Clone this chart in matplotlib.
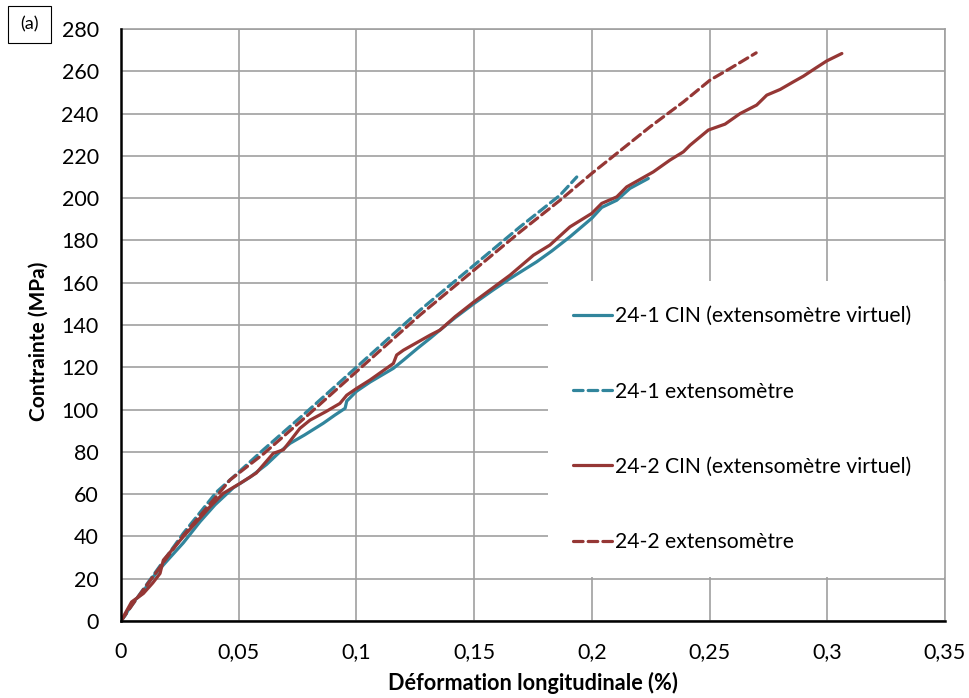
import matplotlib
matplotlib.use("Agg")
import matplotlib.pyplot as plt
from matplotlib.patches import Rectangle
from matplotlib.ticker import FuncFormatter

# donnees
# 24-1 CIN (extensometre virtuel)
x_cin1 = [0, 0.002, 0.005, 0.009, 0.0123, 0.016, 0.02, 0.0265, 0.0336, 0.04, 0.0477,
          0.0548, 0.0618, 0.0675, 0.0718, 0.078, 0.0859, 0.091, 0.0952, 0.0959, 0.1001,
          0.1058, 0.1157, 0.12, 0.126, 0.1313, 0.1355, 0.142, 0.15, 0.158, 0.1653, 0.1766,
          0.183, 0.1907, 0.2, 0.2042, 0.2106, 0.2162, 0.224]
y_cin1 = [0, 3, 9, 13, 19, 24, 29, 37, 47, 55, 63,
          68, 74, 80, 84, 88, 93.5, 97.5, 100.6, 104, 108.7,
          113, 119.5, 123.4, 129, 133.7, 137.6, 143.5, 150.2, 156.5, 162, 169.9,
          175, 181.7, 190.5, 195.6, 199, 204.6, 209.3]

# 24-1 extensometre
x_ext1 = [0, 0.005, 0.0123, 0.0265, 0.0406, 0.0491, 0.0605, 0.08, 0.1, 0.127, 0.15,
          0.1695, 0.1865, 0.1936]
y_ext1 = [0, 8, 19.4, 41.5, 61, 69.5, 81, 100, 120, 147, 168.3,
          186.4, 201.4, 210]

# 24-2 CIN (extensometre virtuel)
x_cin2 = [0, 0.0045, 0.0095, 0.0135, 0.0166, 0.018, 0.0265, 0.0378, 0.0435, 0.0506,
          0.0575, 0.0647, 0.069, 0.076, 0.0803, 0.087, 0.093, 0.0959, 0.1001, 0.1058,
          0.1157, 0.1171, 0.12, 0.1313, 0.1355, 0.142, 0.15, 0.1653, 0.1752, 0.1822,
          0.1907, 0.2, 0.2042, 0.2106, 0.2148, 0.2261, 0.2332, 0.2389, 0.2417, 0.2495,
          0.2566, 0.263, 0.27, 0.2743, 0.28, 0.2856, 0.2899, 0.2948, 0.2998, 0.3062]
y_cin2 = [0, 9, 13, 18, 22.5, 28.8, 39.9, 54, 60.4, 65.1,
          70, 79.3, 81, 91.1, 95, 99, 102.9, 106.8, 110, 114,
          121.8, 125.8, 128.1, 135.2, 137.6, 144, 151, 163.6, 173, 177.8,
          186.4, 192.8, 197.5, 200.6, 205.3, 212.4, 218, 221.9, 225, 232.2,
          235, 240, 244, 248.7, 251.4, 255, 257.7, 261.3, 264.9, 268.4]

# 24-2 extensometre
x_ext2 = [0, 0.005, 0.0123, 0.0265, 0.0406, 0.0463, 0.0605, 0.08, 0.1, 0.127, 0.15,
          0.1695, 0.1865, 0.2, 0.2247, 0.2389, 0.2502, 0.2587, 0.2698]
y_ext2 = [0, 8, 19, 40.5, 59, 66.7, 79, 98, 117.9, 144.7, 166,
          184, 199, 211.7, 233.7, 245.5, 255.8, 261.3, 268.7]

x_ticks = [0, 0.05, 0.1, 0.15, 0.2, 0.25, 0.3, 0.35]
y_ticks = list(range(0, 281, 20))

bleu = '#31859C'
rouge = '#953735'

plt.rcParams['font.family'] = ['Lato', 'DejaVu Sans']

fig = plt.figure(figsize=(9.7, 6.98), dpi=100)
ax = fig.add_axes([0.1247, 0.1103, 0.8495, 0.8482])

ax.plot(x_cin1, y_cin1, color=bleu, lw=2.3, solid_capstyle='round', solid_joinstyle='round',
        label='24-1 CIN (extensomètre virtuel)', zorder=3)
ax.plot(x_ext1, y_ext1, color=bleu, lw=2.3, dashes=(3, 1.6), dash_capstyle='round',
        label='24-1 extensomètre', zorder=3)
ax.plot(x_cin2, y_cin2, color=rouge, lw=2.3, solid_capstyle='round', solid_joinstyle='round',
        label='24-2 CIN (extensomètre virtuel)', zorder=3)
ax.plot(x_ext2, y_ext2, color=rouge, lw=2.3, dashes=(3, 1.6), dash_capstyle='round',
        label='24-2 extensomètre', zorder=3)

ax.set_xlim(0, 0.35)
ax.set_ylim(0, 280)
ax.set_xticks(x_ticks)
ax.set_yticks(y_ticks)
ax.xaxis.set_major_formatter(FuncFormatter(lambda v, p: ('%g' % round(v, 2)).replace('.', ',')))
ax.tick_params(length=0, labelsize=15.5)
ax.tick_params(axis='y', pad=16)
ax.tick_params(axis='x', pad=15)

ax.grid(True, color='#a0a0a0', lw=1.2)
ax.set_axisbelow(True)
for s in ['top', 'right']:
    ax.spines[s].set_color('#a0a0a0')
    ax.spines[s].set_linewidth(1.2)
for s in ['left', 'bottom']:
    ax.spines[s].set_color('black')
    ax.spines[s].set_linewidth(1.8)
    ax.spines[s].set_zorder(4)

ax.set_xlabel('Déformation longitudinale (%)', fontsize=15.6, fontweight='bold', labelpad=7)
ax.set_ylabel('Contrainte (MPa)', fontsize=15, fontweight='bold')
ax.yaxis.set_label_coords(-0.088, 0.473)

# fond blanc de la legende qui cache la grille
ax.add_patch(Rectangle((0.518, 0.0743), 0.482, 0.4997, transform=ax.transAxes,
                       facecolor='white', edgecolor='none', zorder=1))
leg = ax.legend(loc='center left', bbox_to_anchor=(0.548, 0.324), frameon=False,
                fontsize=15.2, handlelength=1.85, handletextpad=0.15, labelspacing=2.62,
                borderpad=0, borderaxespad=0)

# etiquette (a)
fig.patches.append(Rectangle((8 / 970, 1 - 43 / 698), 43 / 970, 37 / 698,
                             transform=fig.transFigure, facecolor='white',
                             edgecolor='black', lw=0.8))
fig.text(30 / 970, 1 - 24 / 698, '(a)', ha='center', va='center', fontsize=13)

fig.savefig('out.png', dpi=100)
